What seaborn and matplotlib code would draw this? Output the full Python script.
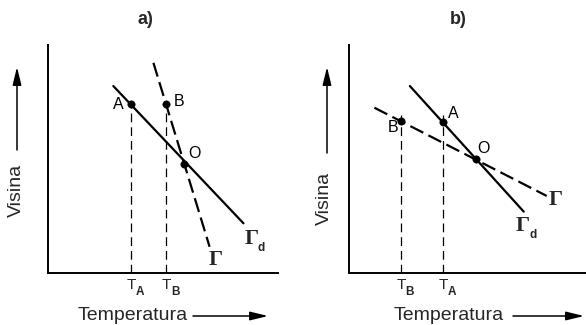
import matplotlib
matplotlib.use("Agg")
import matplotlib.pyplot as plt
import seaborn as sns
import pandas as pd

# ---------------- data (arbitrary units, axes span 0..10) ----------------
# panel a)
a_gd_x = [2.85, 8.50]          # solid line Gamma_d
a_gd_y = [8.20, 2.18]
a_g_x = [4.59, 7.03]           # dashed line Gamma
a_g_y = [9.22, 1.15]
a_pt_names = ["A", "B", "O"]
a_pt_x = [3.62, 5.15, 5.93]
a_pt_y = [7.40, 7.41, 4.80]
a_drop_names = ["A", "B"]      # T_A, T_B
a_drop_x = [3.62, 5.15]
a_drop_top = [7.40, 7.41]

# panel b)
b_gd_x = [2.56, 7.37]
b_gd_y = [8.20, 2.69]
b_g_x = [1.06, 8.34]
b_g_y = [7.25, 3.38]
b_pt_names = ["A", "B", "O"]
b_pt_x = [3.94, 2.18, 5.35]
b_pt_y = [6.61, 6.68, 4.99]
b_drop_names = ["A", "B"]
b_drop_x = [3.94, 2.18]
b_drop_top = [6.95, 6.92]

titles = ["a)", "b)"]
xlabel = "Temperatura"
ylabel = "Visina"

# ---------------- style ----------------
sns.set_style("white")
plt.rcParams['font.family'] = ['Liberation Sans', 'DejaVu Sans']

W, H = 586, 325
fig = plt.figure(figsize=(W / 100, H / 100), dpi=100)

def px(x, y):
    return (x / W, 1 - y / H)

ax_a = fig.add_axes([47.7 / W, 52 / H, 230.3 / W, 228 / H])
ax_b = fig.add_axes([349.3 / W, 52 / H, 236.7 / W, 228 / H])

def draw_panel(ax, gd_x, gd_y, g_x, g_y, pt_x, pt_y, drop_x, drop_top):
    sns.lineplot(x=gd_x, y=gd_y, ax=ax, color="black", lw=1.6, estimator=None)
    sns.lineplot(x=g_x, y=g_y, ax=ax, color="black", lw=1.6, estimator=None,
                 linestyle=(0, (6.5, 2.6)))
    for x, top in zip(drop_x, drop_top):
        sns.lineplot(x=[x, x], y=[0, top], ax=ax, color="black", lw=0.9,
                     estimator=None, sort=False, linestyle=(0, (7, 4)))
    sns.scatterplot(x=pt_x, y=pt_y, ax=ax, color="black", s=28,
                    edgecolor="black", zorder=5)
    ax.set_xlim(0, 10)
    ax.set_ylim(0, 10)
    ax.set_xticks([])
    ax.set_yticks([])
    for s in ["top", "right"]:
        ax.spines[s].set_visible(False)
    for s in ["left", "bottom"]:
        ax.spines[s].set_color("black")
        ax.spines[s].set_linewidth(1.4)
    ax.set_facecolor("none")

draw_panel(ax_a, a_gd_x, a_gd_y, a_g_x, a_g_y, a_pt_x, a_pt_y, a_drop_x, a_drop_top)
draw_panel(ax_b, b_gd_x, b_gd_y, b_g_x, b_g_y, b_pt_x, b_pt_y, b_drop_x, b_drop_top)

lbl_kw = dict(fontsize=11.5, ha="center", va="center", color="black", clip_on=False)
a_lbl_pos = {"A": (3.08, 7.41), "B": (5.69, 7.51), "O": (6.36, 5.25)}
for n in a_pt_names:
    ax_a.text(*a_lbl_pos[n], n, **lbl_kw)
b_lbl_pos = {"A": (4.38, 6.98), "B": (1.83, 6.36), "O": (5.65, 5.44)}
for n in b_pt_names:
    ax_b.text(*b_lbl_pos[n], n, **lbl_kw)

# Gamma labels
gam_kw = dict(fontsize=16, ha="center", va="center", fontweight="bold",
              family=["Liberation Serif", "DejaVu Serif"], clip_on=False)
sub_kw = dict(fontsize=8.5, ha="left", va="center", fontweight="bold", clip_on=False)
ax_a.text(8.85, 1.51, "Γ", **gam_kw)
ax_a.text(9.12, 1.10, "d", **sub_kw)
ax_a.text(7.31, 0.57, "Γ", **gam_kw)
ax_b.text(7.34, 2.07, "Γ", **gam_kw)
ax_b.text(7.60, 1.66, "d", **sub_kw)
ax_b.text(8.73, 3.20, "Γ", **gam_kw)

# T labels under the axis
def t_labels(ax, xs, names, dx):
    for x, n in zip(xs, names):
        ax.text(x + 0.02, -0.52, "T", fontsize=11, ha="center", va="center", clip_on=False)
        ax.text(x + dx, -0.84, n, fontsize=8.5, fontweight="bold", ha="center", va="center", clip_on=False)

t_labels(ax_a, a_drop_x, a_drop_names, 0.40)
t_labels(ax_b, b_drop_x, b_drop_names, 0.38)

# titles
fig.text(*px(145, 20), titles[0], fontsize=13, fontweight="bold", ha="center", va="center")
fig.text(*px(458, 20), titles[1], fontsize=13, fontweight="bold", ha="center", va="center")

# axis labels with arrows
arrow_props = dict(arrowstyle="-|>,head_length=0.9,head_width=0.22", color="black",
                   lw=1.1, shrinkA=0, shrinkB=0, mutation_scale=12)
fig.text(*px(133, 315), xlabel, fontsize=14, ha="center", va="center")
fig.text(*px(449, 315), xlabel, fontsize=14, ha="center", va="center")
fig.text(*px(16, 190), ylabel, fontsize=14, ha="center", va="center", rotation=90)
fig.text(*px(324.5, 198), ylabel, fontsize=14, ha="center", va="center", rotation=90)

for (x0, y0, x1, y1) in [(193, 316, 268, 316), (513, 316, 584, 316),
                         (17, 150, 17, 67), (327, 153, 327, 67)]:
    fig.add_artist(matplotlib.patches.FancyArrowPatch(
        px(x0, y0), px(x1, y1), transform=fig.transFigure, **arrow_props))

fig.savefig("out.png", dpi=100)
